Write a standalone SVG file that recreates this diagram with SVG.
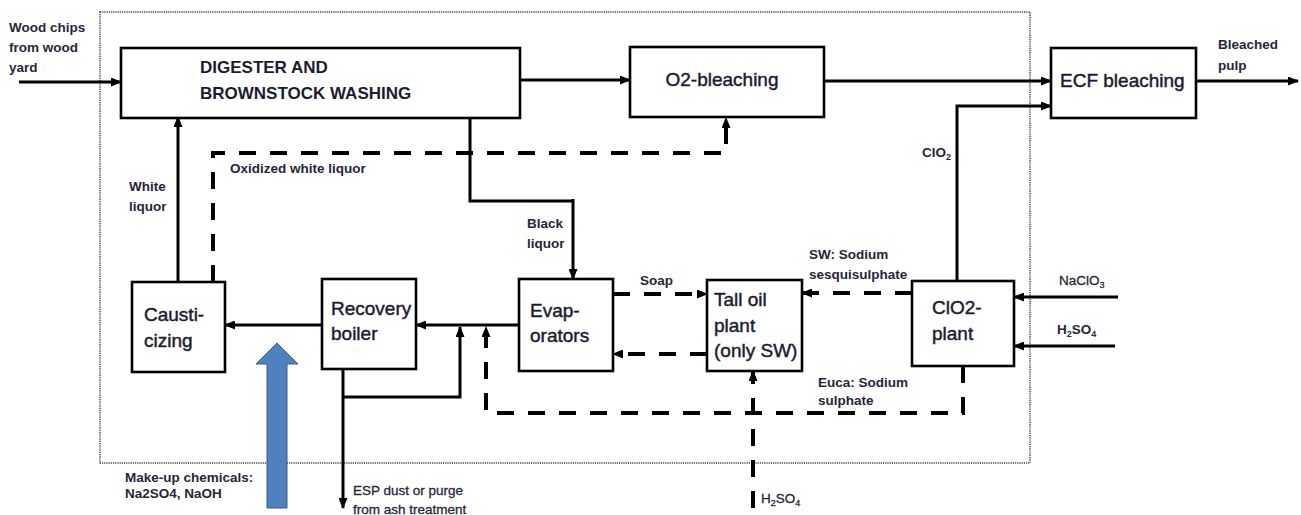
<svg xmlns="http://www.w3.org/2000/svg" width="1301" height="515" viewBox="0 0 1301 515">
<defs>
<marker id="ah" markerUnits="userSpaceOnUse" markerWidth="11" markerHeight="9" refX="10" refY="4.5" orient="auto">
<path d="M0,0 L11,4.5 L0,9 z" fill="#000"/>
</marker>
<style>
.box{fill:#fff;stroke:#000;stroke-width:2.6}
.ln{fill:none;stroke:#000;stroke-width:3}
.ds{fill:none;stroke:#000;stroke-width:4;stroke-dasharray:17 14}
.nt{font-family:"Liberation Sans",Arial,sans-serif;font-size:19px;fill:#1c1c30;stroke:#1c1c30;stroke-width:0.45}
.nb{font-family:"Liberation Sans",Arial,sans-serif;font-size:17px;font-weight:bold;fill:#1c1c30}
.lb{font-family:"Liberation Sans",Arial,sans-serif;font-size:13.5px;font-weight:bold;fill:#2a2438}
.lr{font-family:"Liberation Sans",Arial,sans-serif;font-size:13.5px;fill:#2a2438;stroke:#2a2438;stroke-width:0.3}
</style>
</defs>
<rect x="100" y="12" width="930" height="451" fill="none" stroke="#444" stroke-width="1.5" stroke-dasharray="1.2 1"/>
<g id="connectors">
<path class="ln" d="M19,82 H121" marker-end="url(#ah)"/>
<path class="ln" d="M520,80 H630" marker-end="url(#ah)"/>
<path class="ln" d="M824,81 H1051" stroke-width="2.5" marker-end="url(#ah)"/>
<path class="ln" d="M957,281 V106 H1051" stroke-width="3.5" marker-end="url(#ah)"/>
<path class="ln" d="M1196,81 H1298" marker-end="url(#ah)"/>
<path class="ln" d="M178,282 V117" marker-end="url(#ah)"/>
<path class="ds" d="M213,282 V153 H726 V118" marker-end="url(#ah)"/>
<path class="ln" d="M470,117 V201 H573" stroke-width="5"/>
<path class="ln" d="M573,199 V279" marker-end="url(#ah)"/>
<path class="ln" d="M519,325 H416" marker-end="url(#ah)"/>
<path class="ln" d="M322,325 H225" marker-end="url(#ah)"/>
<path class="ln" d="M343,369 V508" marker-end="url(#ah)"/>
<path class="ln" d="M343,397 H460 V327" marker-end="url(#ah)"/>
<path class="ds" d="M963,366 V413 H486 V327" marker-end="url(#ah)"/>
<path class="ds" d="M753,508 V371" marker-end="url(#ah)"/>
<path class="ds" d="M613,294 H707" marker-end="url(#ah)"/>
<path class="ds" d="M707,354 H613" marker-end="url(#ah)"/>
<path class="ds" d="M912,293 H802" marker-end="url(#ah)"/>
<path class="ln" d="M1118,297 H1014" stroke-width="4" marker-end="url(#ah)"/>
<path class="ln" d="M1115,346 H1014" stroke-width="4" marker-end="url(#ah)"/>
<polygon points="267,508 287,508 287,364 298,364 277,343 256,364 267,364" fill="#4f81bd" stroke="#3a5f8b" stroke-width="1"/>
</g>
<g id="digester">
<rect class="box" x="121" y="48" width="399" height="70"/>
<text class="nb" x="200" y="73">DIGESTER AND</text>
<text class="nb" x="200" y="99">BROWNSTOCK WASHING</text>
</g>
<g id="o2">
<rect class="box" x="630" y="47" width="194" height="70"/>
<text class="nt" x="722" y="86" text-anchor="middle">O2-bleaching</text>
</g>
<g id="ecf">
<rect class="box" x="1051" y="48" width="145" height="70"/>
<text class="nt" x="1060" y="87">ECF bleaching</text>
</g>
<g id="causticizing">
<rect class="box" x="132" y="282" width="93" height="90"/>
<text class="nt" x="144" y="321">Causti-</text>
<text class="nt" x="144" y="347">cizing</text>
</g>
<g id="recovery">
<rect class="box" x="322" y="279" width="94" height="90"/>
<text class="nt" x="331" y="315">Recovery</text>
<text class="nt" x="331" y="340">boiler</text>
</g>
<g id="evaporators">
<rect class="box" x="519" y="279" width="94" height="92"/>
<text class="nt" x="530" y="317">Evap-</text>
<text class="nt" x="530" y="342">orators</text>
</g>
<g id="talloil">
<rect class="box" x="707" y="280" width="95" height="91"/>
<text class="nt" x="714" y="306">Tall oil</text>
<text class="nt" x="714" y="332">plant</text>
<text class="nt" x="714" y="357">(only SW)</text>
</g>
<g id="clo2plant">
<rect class="box" x="912" y="281" width="102" height="85"/>
<text class="nt" x="932" y="314">ClO2-</text>
<text class="nt" x="932" y="340">plant</text>
</g>
<g id="labels">
<text class="lb" x="9" y="32">Wood chips</text>
<text class="lb" x="9" y="52">from wood</text>
<text class="lb" x="9" y="72">yard</text>
<text class="lb" x="1218" y="49">Bleached</text>
<text class="lb" x="1218" y="70">pulp</text>
<text class="lb" x="129" y="191">White</text>
<text class="lb" x="129" y="211">liquor</text>
<text class="lb" x="230" y="173">Oxidized white liquor</text>
<text class="lb" x="922" y="157">ClO<tspan font-size="9" dy="3">2</tspan></text>
<text class="lb" x="527" y="228">Black</text>
<text class="lb" x="527" y="248">liquor</text>
<text class="lb" x="640" y="285">Soap</text>
<text class="lb" x="809" y="259">SW: Sodium</text>
<text class="lb" x="809" y="279">sesquisulphate</text>
<text class="lb" x="818" y="387">Euca: Sodium</text>
<text class="lb" x="818" y="405">sulphate</text>
<text class="lr" x="1059" y="285">NaClO<tspan font-size="9" dy="3">3</tspan></text>
<text class="lb" x="1057" y="334">H<tspan font-size="9" dy="3">2</tspan><tspan dy="-3">SO</tspan><tspan font-size="9" dy="3">4</tspan></text>
<text class="lr" x="761" y="503">H<tspan font-size="9" dy="3">2</tspan><tspan dy="-3">SO</tspan><tspan font-size="9" dy="3">4</tspan></text>
<text class="lb" x="125" y="482" font-size="12">Make-up chemicals:</text>
<text class="lb" x="125" y="498" font-size="12">Na2SO4, NaOH</text>
<text class="lr" x="353" y="495">ESP dust or purge</text>
<text class="lr" x="353" y="514">from ash treatment</text>
</g>
</svg>
